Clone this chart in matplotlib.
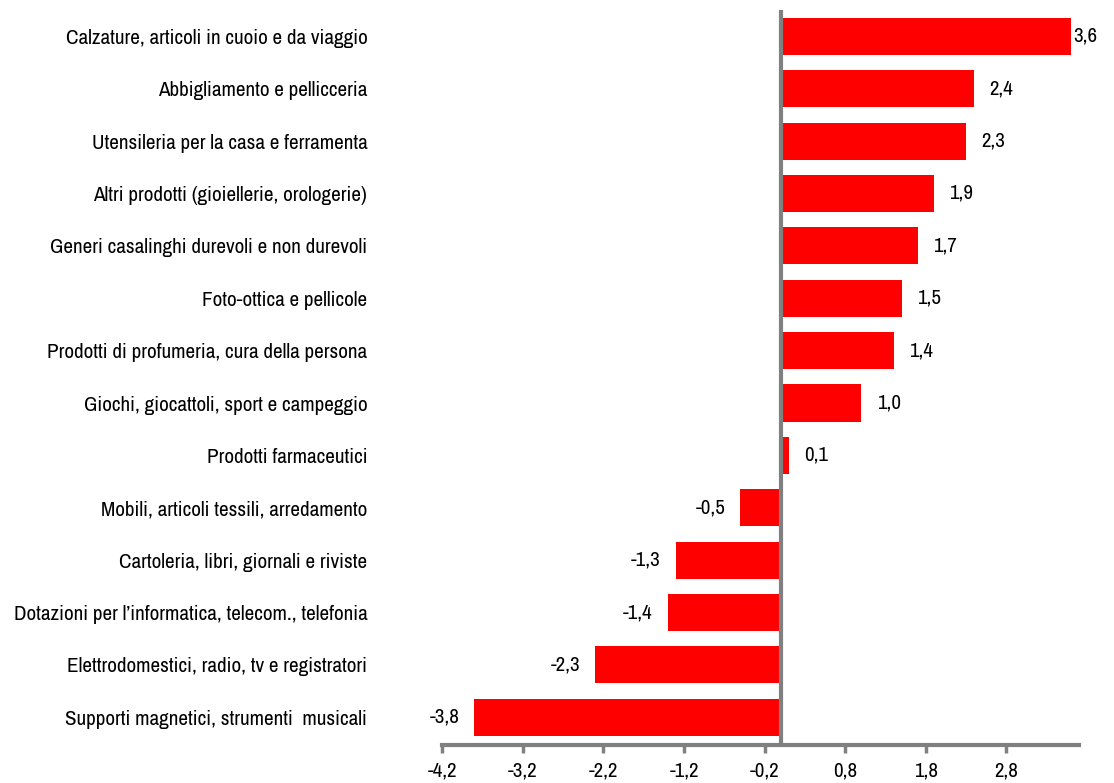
import matplotlib
matplotlib.use("Agg")
import matplotlib.pyplot as plt
from matplotlib import font_manager

categories = [
    "Calzature, articoli in cuoio e da viaggio",
    "Abbigliamento e pellicceria",
    "Utensileria per la casa e ferramenta",
    "Altri prodotti (gioiellerie, orologerie)",
    "Generi casalinghi durevoli e non durevoli",
    "Foto-ottica e pellicole",
    "Prodotti di profumeria, cura della persona",
    "Giochi, giocattoli, sport e campeggio",
    "Prodotti farmaceutici",
    "Mobili, articoli tessili, arredamento",
    "Cartoleria, libri, giornali e riviste",
    "Dotazioni per l\u2019informatica, telecom., telefonia",
    "Elettrodomestici, radio, tv e registratori",
    "Supporti magnetici, strumenti  musicali",
]
values = [3.6, 2.4, 2.3, 1.9, 1.7, 1.5, 1.4, 1.0, 0.1, -0.5, -1.3, -1.4, -2.3, -3.8]
xticks = [-4.2, -3.2, -2.2, -1.2, -0.2, 0.8, 1.8, 2.8]

names = {f.name for f in font_manager.fontManager.ttflist}
narrow = ["Liberation Sans Narrow", "Arial Narrow", "Archivo Narrow", "PT Sans Narrow",
          "Roboto Condensed", "Pragati Narrow"]
chosen = [f for f in narrow if f in names]
fam = chosen[:1] + ["Liberation Sans", "DejaVu Sans"]
fam = [f for f in fam if f in names] or ["DejaVu Sans"]
plt.rcParams["font.family"] = fam
is_narrow = bool(chosen)
fs_cat = 15.2 if is_narrow else 12
fs_val = 15 if is_narrow else 13

fig = plt.figure(figsize=(11.14, 7.83), dpi=100)
ax = fig.add_axes([0.397, 0.0485, 0.5716, 0.9385])

n = len(values)
ypos = list(range(n - 1, -1, -1))
ax.barh(ypos, values, height=0.71, color="#FF0000", zorder=2)
ax.axvline(0, color="#808080", lw=3, zorder=3)

xmin, xmax = -4.2, 3.7
ax.set_xlim(xmin, xmax)
ax.set_ylim(-0.53, n - 0.5)
ax.set_xticks(xticks)
ax.set_xticklabels([f"{t:.1f}".replace(".", ",") for t in xticks], fontsize=fs_val)
ax.set_yticks(ypos)
ax.set_yticklabels(categories, fontsize=fs_cat)
ax.tick_params(axis="y", length=0, pad=54)
ax.tick_params(axis="x", length=6, width=2.5, color="#808080", pad=6, direction="out")

for s in ["top", "right", "left"]:
    ax.spines[s].set_visible(False)
ax.spines["bottom"].set_color("#808080")
ax.spines["bottom"].set_linewidth(3)

for y, v in zip(ypos, values):
    txt = f"{v:.1f}".replace(".", ",")
    if v >= 0:
        off = 2 if v > xmax - 0.3 else 11
        ax.annotate(txt, (v, y), xytext=(off, 0), textcoords="offset points",
                    ha="left", va="center", fontsize=fs_val)
    else:
        ax.annotate(txt, (v, y), xytext=(-11, 0), textcoords="offset points",
                    ha="right", va="center", fontsize=fs_val)

fig.savefig("out.png", dpi=100)
